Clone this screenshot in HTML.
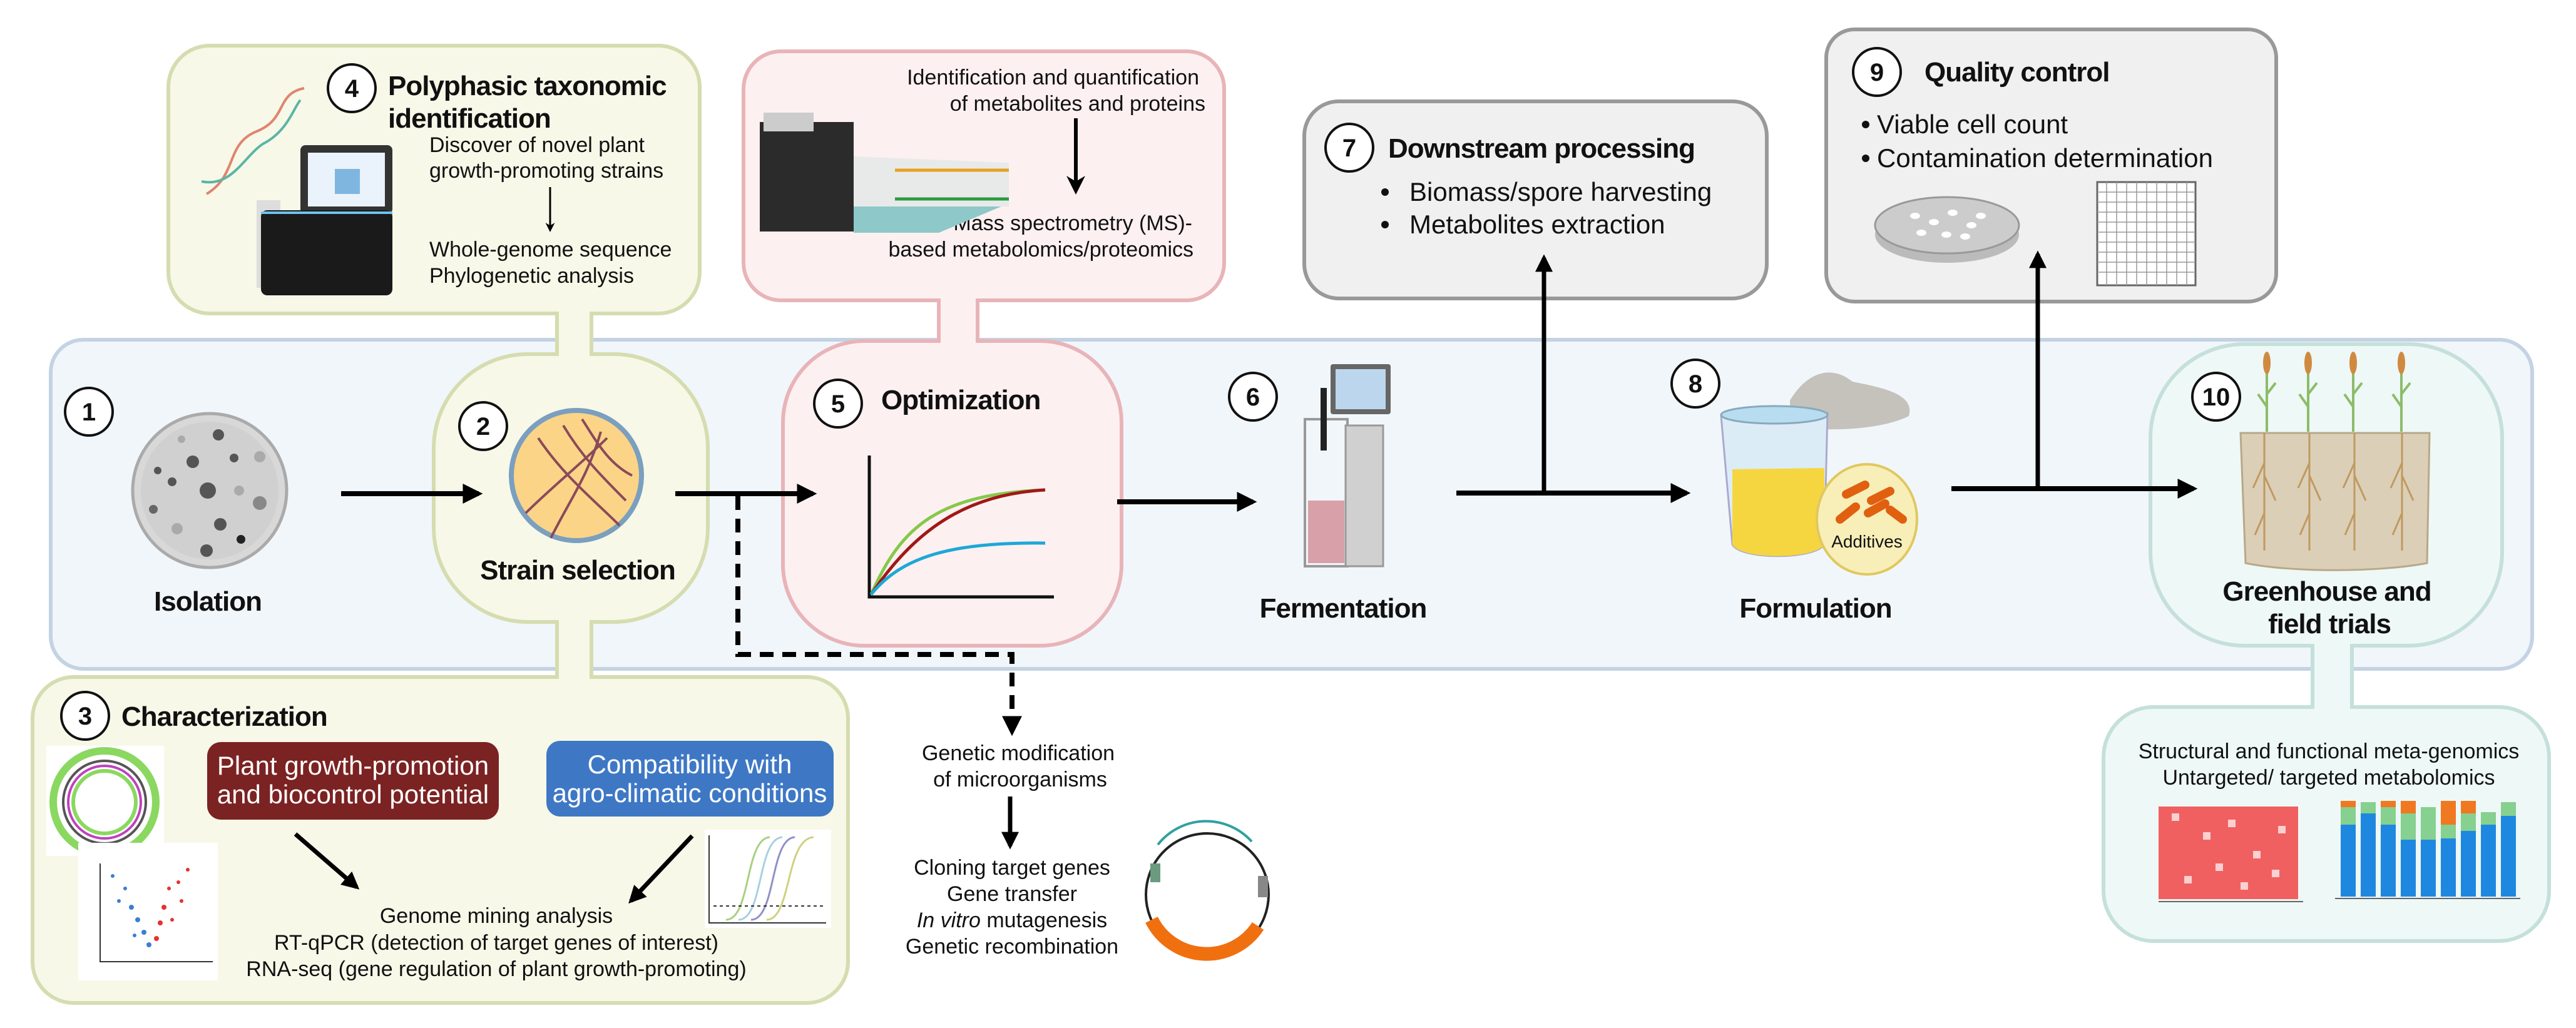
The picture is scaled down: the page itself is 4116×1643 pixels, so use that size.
<!DOCTYPE html>
<html><head><meta charset="utf-8"><style>
html,body{margin:0;padding:0;background:#fff;}
svg{display:block;}
text{font-family:"Liberation Sans","DejaVu Sans",sans-serif;fill:#111;}
.t{font-size:34px;}
.h{font-size:44px;font-weight:bold;letter-spacing:-1px;}
.b{font-size:42px;}
.n{font-size:40px;font-weight:bold;text-anchor:middle;}
</style></head><body>
<svg width="4116" height="1643" viewBox="0 0 4116 1643" xmlns="http://www.w3.org/2000/svg">
<defs>
<marker id="ah" viewBox="0 0 10 10" refX="8" refY="5" markerWidth="4" markerHeight="4" orient="auto"><path d="M0,0 L10,5 L0,10 z" fill="#000"/></marker>
<marker id="ah2" viewBox="0 0 10 10" refX="8" refY="5" markerWidth="5" markerHeight="5" orient="auto"><path d="M0,0 L10,5 L0,10 L3,5 z" fill="#000"/></marker>
</defs>

<!-- main panel -->
<rect x="81" y="543" width="3965" height="526" rx="52" fill="#f1f6fb" stroke="#c4d3e3" stroke-width="6"/>

<!-- box 4 + connector -->
<rect x="890" y="495" width="55" height="80" fill="#f7f8e8" stroke="none"/>
<line x1="890" y1="500" x2="890" y2="572" stroke="#d5ddb0" stroke-width="6"/>
<line x1="945" y1="500" x2="945" y2="572" stroke="#d5ddb0" stroke-width="6"/>
<rect x="269" y="73" width="849" height="428" rx="66" fill="#f7f8e8" stroke="#d5ddb0" stroke-width="6"/>
<rect x="893" y="490" width="49" height="20" fill="#f7f8e8"/>
<!-- connector 2-3 -->
<rect x="890" y="985" width="55" height="105" fill="#f7f8e8"/>
<line x1="890" y1="990" x2="890" y2="1085" stroke="#d5ddb0" stroke-width="6"/>
<line x1="945" y1="990" x2="945" y2="1085" stroke="#d5ddb0" stroke-width="6"/>
<!-- box 3 -->
<rect x="52" y="1082" width="1303" height="521" rx="66" fill="#f7f8e8" stroke="#d5ddb0" stroke-width="6"/>
<rect x="893" y="1076" width="49" height="14" fill="#f7f8e8"/>
<!-- strain shape -->
<rect x="693" y="566" width="438" height="428" rx="150" fill="#f7f8e8" stroke="#d5ddb0" stroke-width="6"/>
<rect x="893" y="558" width="49" height="14" fill="#f7f8e8"/>
<rect x="893" y="988" width="49" height="14" fill="#f7f8e8"/>

<!-- box 5 -->
<rect x="1500" y="475" width="62" height="95" fill="#fdf0f0"/>
<line x1="1500" y1="478" x2="1500" y2="566" stroke="#e8b4b8" stroke-width="6"/>
<line x1="1562" y1="478" x2="1562" y2="566" stroke="#e8b4b8" stroke-width="6"/>
<rect x="1188" y="82" width="768" height="398" rx="60" fill="#fdf0f0" stroke="#e8b4b8" stroke-width="6"/>
<rect x="1503" y="470" width="56" height="16" fill="#fdf0f0"/>
<rect x="1251" y="545" width="541" height="487" rx="130" fill="#fdf0f0" stroke="#e8b4b8" stroke-width="6"/>
<rect x="1503" y="538" width="56" height="14" fill="#fdf0f0"/>

<!-- box 7, 9 -->
<rect x="2084" y="162" width="739" height="315" rx="55" fill="#f0f0f0" stroke="#999" stroke-width="6"/>
<rect x="2918" y="47" width="719" height="435" rx="45" fill="#f0f0f0" stroke="#999" stroke-width="6"/>

<!-- box 10 -->
<rect x="3695" y="1025" width="63" height="110" fill="#eef8f6"/>
<line x1="3695" y1="1030" x2="3695" y2="1132" stroke="#c5e0da" stroke-width="6"/>
<line x1="3758" y1="1030" x2="3758" y2="1132" stroke="#c5e0da" stroke-width="6"/>
<rect x="3361" y="1130" width="712" height="374" rx="80" fill="#eef8f6" stroke="#c5e0da" stroke-width="6"/>
<rect x="3436" y="550" width="562" height="482" rx="150" fill="#eef8f6" stroke="#c5e0da" stroke-width="6"/>
<rect x="3698" y="1026" width="57" height="14" fill="#eef8f6"/>
<rect x="3698" y="1124" width="57" height="14" fill="#eef8f6"/>

<!-- badges -->
<g fill="#fff" stroke="#111" stroke-width="4">
<circle cx="562" cy="141" r="38"/><circle cx="142" cy="658" r="38"/><circle cx="772" cy="681" r="38"/>
<circle cx="1339" cy="645" r="38"/><circle cx="2002" cy="634" r="38"/><circle cx="136" cy="1144" r="38"/>
<circle cx="2156" cy="236" r="38"/><circle cx="2709" cy="613" r="38"/><circle cx="2999" cy="115" r="38"/>
<circle cx="3541" cy="634" r="38"/>
</g>
<g class="n">
<text class="n" x="562" y="155">4</text><text class="n" x="142" y="672">1</text><text class="n" x="772" y="695">2</text>
<text class="n" x="1339" y="659">5</text><text class="n" x="2002" y="648">6</text><text class="n" x="136" y="1158">3</text>
<text class="n" x="2156" y="250">7</text><text class="n" x="2709" y="627">8</text><text class="n" x="2999" y="129">9</text>
<text class="n" x="3541" y="648">10</text>
</g>

<!-- box 4 content -->
<text class="h" x="620" y="152">Polyphasic taxonomic</text>
<text class="h" x="620" y="204">identification</text>
<text class="t" x="686" y="243">Discover of novel plant</text>
<text class="t" x="686" y="284">growth-promoting strains</text>
<line x1="879" y1="299" x2="879" y2="368" stroke="#000" stroke-width="3" marker-end="url(#ah2)"/>
<text class="t" x="686" y="410">Whole-genome sequence</text>
<text class="t" x="686" y="452">Phylogenetic analysis</text>
<g stroke-width="4" fill="none">
<path d="M330,310 C380,280 360,230 410,210 C460,190 440,150 486,141" stroke="#e0846e"/>
<path d="M322,290 C370,300 390,250 420,230 C460,210 470,170 480,160" stroke="#5bb5a5"/>
</g>
<rect x="410" y="320" width="38" height="140" fill="#ddd"/>
<rect x="480" y="232" width="147" height="110" rx="8" fill="#333"/>
<rect x="492" y="244" width="123" height="86" fill="#eaf3fb"/>
<rect x="535" y="270" width="40" height="40" fill="#7fb6e0"/>
<rect x="417" y="336" width="210" height="136" rx="10" fill="#1a1a1a"/>
<line x1="417" y1="340" x2="627" y2="340" stroke="#6ec3f0" stroke-width="4"/>

<!-- box 5 content -->
<text class="t" x="1916" y="135" text-anchor="end">Identification and quantification</text>
<text class="t" x="1926" y="177" text-anchor="end">of metabolites and proteins</text>
<line x1="1719" y1="189" x2="1719" y2="305" stroke="#000" stroke-width="6" marker-end="url(#ah2)"/>
<text class="t" x="1905" y="368" text-anchor="end">Mass spectrometry (MS)-</text>
<text class="t" x="1907" y="410" text-anchor="end">based metabolomics/proteomics</text>
<rect x="1214" y="195" width="150" height="175" fill="#2b2b2b"/>
<rect x="1220" y="180" width="80" height="30" fill="#ccc"/>
<polygon points="1364,250 1612,260 1612,330 1364,330" fill="#e8eaea"/>
<line x1="1430" y1="272" x2="1612" y2="272" stroke="#e8a020" stroke-width="5"/>
<line x1="1430" y1="318" x2="1612" y2="318" stroke="#2a9a40" stroke-width="5"/>
<polygon points="1364,330 1600,330 1500,372 1364,372" fill="#8ec8c8"/>

<!-- isolation -->
<circle cx="335" cy="784" r="123" fill="#d8d8d8" stroke="#aaa" stroke-width="5"/>
<circle cx="335" cy="784" r="110" fill="#d0d0d0"/>
<g fill="#555"><circle cx="332" cy="784" r="13"/><circle cx="349" cy="695" r="9"/><circle cx="308" cy="738" r="10"/><circle cx="275" cy="770" r="7"/><circle cx="252" cy="752" r="6"/><circle cx="352" cy="838" r="10"/><circle cx="385" cy="862" r="7" fill="#222"/><circle cx="330" cy="880" r="10"/><circle cx="374" cy="732" r="7"/></g>
<g fill="#aaa"><circle cx="290" cy="702" r="6"/><circle cx="415" cy="730" r="9"/><circle cx="382" cy="784" r="8"/><circle cx="415" cy="804" r="11" fill="#888"/><circle cx="283" cy="845" r="9"/><circle cx="245" cy="814" r="7" fill="#666"/></g>
<text class="h" x="332" y="976" text-anchor="middle">Isolation</text>
<line x1="545" y1="789" x2="765" y2="789" stroke="#000" stroke-width="8" marker-end="url(#ah)"/>

<!-- strain selection -->
<circle cx="921" cy="760" r="108" fill="#7a9fbf"/>
<circle cx="921" cy="760" r="100" fill="#fbd488"/>
<g stroke="#8a4a5a" stroke-width="4" fill="none">
<path d="M860,700 C900,760 950,800 990,840"/><path d="M900,680 C930,730 960,760 1000,800"/><path d="M840,820 C880,780 930,740 970,700"/><path d="M880,860 C910,800 940,760 960,690"/><path d="M930,670 C950,700 970,740 1010,760"/>
</g>
<text class="h" x="923" y="926" text-anchor="middle">Strain selection</text>

<!-- arrows main row -->
<line x1="1079" y1="789" x2="1299" y2="789" stroke="#000" stroke-width="8" marker-end="url(#ah)"/>
<polyline points="1179,793 1179,1046 1617,1046 1617,1170" fill="none" stroke="#000" stroke-width="8" stroke-dasharray="22,14" marker-end="url(#ah)"/>

<!-- optimization -->
<text class="h" x="1408" y="654">Optimization</text>
<polyline points="1389,728 1389,954 1684,954" fill="none" stroke="#111" stroke-width="5"/>
<path d="M1392,950 C1440,840 1500,790 1670,783" stroke="#86c84a" stroke-width="5" fill="none"/>
<path d="M1392,950 C1460,850 1540,790 1670,783" stroke="#a01818" stroke-width="5" fill="none"/>
<path d="M1392,950 C1440,890 1520,866 1670,868" stroke="#1ca8d8" stroke-width="5" fill="none"/>
<line x1="1785" y1="802" x2="2002" y2="802" stroke="#000" stroke-width="8" marker-end="url(#ah)"/>

<!-- fermentation -->
<rect x="2126" y="582" width="96" height="80" rx="4" fill="#666"/>
<rect x="2134" y="590" width="80" height="64" fill="#bcd6ee"/>
<rect x="2085" y="670" width="68" height="235" fill="none" stroke="#999" stroke-width="4"/>
<rect x="2090" y="800" width="58" height="100" fill="#d8a0a8"/>
<rect x="2150" y="680" width="60" height="225" fill="#d0d0d0" stroke="#999" stroke-width="3"/>
<rect x="2110" y="620" width="10" height="100" fill="#222"/>
<text class="h" x="2146" y="987" text-anchor="middle">Fermentation</text>

<!-- box 7 -->
<text class="h" x="2218" y="252">Downstream processing</text>
<circle cx="2213" cy="307" r="6" fill="#111"/><circle cx="2213" cy="359" r="6" fill="#111"/>
<text class="b" x="2252" y="321">Biomass/spore harvesting</text>
<text class="b" x="2252" y="373">Metabolites extraction</text>
<line x1="2327" y1="788" x2="2695" y2="788" stroke="#000" stroke-width="8" marker-end="url(#ah)"/>
<line x1="2467" y1="790" x2="2467" y2="412" stroke="#000" stroke-width="7" marker-end="url(#ah)"/>

<!-- formulation -->
<path d="M2860,640 C2890,590 2930,585 2960,610 C3010,620 3060,630 3050,665 C3000,690 2900,690 2860,680 Z" fill="#c5c2bc"/>
<path d="M2750,665 L2920,660 L2915,870 C2900,895 2780,895 2768,870 Z" fill="#dcecf6" stroke="#aac" stroke-width="3"/>
<path d="M2768,750 L2915,748 L2915,870 C2900,895 2780,895 2768,870 Z" fill="#f6d640"/>
<ellipse cx="2835" cy="663" rx="85" ry="14" fill="#b8dcf0" stroke="#8ab" stroke-width="3"/>
<ellipse cx="2983" cy="830" rx="80" ry="88" fill="#f8eeb8" stroke="#e0c860" stroke-width="4"/>
<g stroke="#e06010" stroke-width="14" stroke-linecap="round"><line x1="2950" y1="790" x2="2980" y2="775"/><line x1="2990" y1="800" x2="3020" y2="785"/><line x1="2940" y1="830" x2="2965" y2="810"/><line x1="2985" y1="820" x2="3012" y2="805"/><line x1="3020" y1="815" x2="3040" y2="830"/></g>
<text x="2983" y="875" font-size="28" text-anchor="middle">Additives</text>
<text class="h" x="2901" y="987" text-anchor="middle">Formulation</text>
<line x1="3118" y1="781" x2="3505" y2="781" stroke="#000" stroke-width="8" marker-end="url(#ah)"/>
<line x1="3256" y1="784" x2="3256" y2="406" stroke="#000" stroke-width="7" marker-end="url(#ah)"/>

<!-- box 9 -->
<text class="h" x="3075" y="130">Quality control</text>
<circle cx="2981" cy="199" r="6" fill="#111"/><circle cx="2981" cy="253" r="6" fill="#111"/>
<text class="b" x="2999" y="213">Viable cell count</text>
<text class="b" x="2999" y="267">Contamination determination</text>
<ellipse cx="3111" cy="375" rx="115" ry="45" fill="#bbb"/>
<ellipse cx="3111" cy="360" rx="115" ry="45" fill="#ccc" stroke="#999" stroke-width="3"/>
<g fill="#fff"><ellipse cx="3060" cy="345" rx="8" ry="5"/><ellipse cx="3090" cy="355" rx="8" ry="5"/><ellipse cx="3120" cy="340" rx="8" ry="5"/><ellipse cx="3150" cy="360" rx="8" ry="5"/><ellipse cx="3110" cy="375" rx="8" ry="5"/><ellipse cx="3070" cy="372" rx="8" ry="5"/><ellipse cx="3140" cy="378" rx="8" ry="5"/><ellipse cx="3165" cy="345" rx="8" ry="5"/></g>
<rect x="3351" y="291" width="157" height="165" fill="#fff" stroke="#666" stroke-width="3"/>
<g stroke="#999" stroke-width="1.5">
<line x1="3366" y1="291" x2="3366" y2="456"/><line x1="3382" y1="291" x2="3382" y2="456"/><line x1="3398" y1="291" x2="3398" y2="456"/><line x1="3414" y1="291" x2="3414" y2="456"/><line x1="3430" y1="291" x2="3430" y2="456"/><line x1="3446" y1="291" x2="3446" y2="456"/><line x1="3462" y1="291" x2="3462" y2="456"/><line x1="3478" y1="291" x2="3478" y2="456"/><line x1="3494" y1="291" x2="3494" y2="456"/>
<line x1="3351" y1="307" x2="3508" y2="307"/><line x1="3351" y1="323" x2="3508" y2="323"/><line x1="3351" y1="339" x2="3508" y2="339"/><line x1="3351" y1="355" x2="3508" y2="355"/><line x1="3351" y1="371" x2="3508" y2="371"/><line x1="3351" y1="387" x2="3508" y2="387"/><line x1="3351" y1="403" x2="3508" y2="403"/><line x1="3351" y1="419" x2="3508" y2="419"/><line x1="3351" y1="435" x2="3508" y2="435"/>
</g>

<!-- greenhouse -->
<path d="M3580,692 L3882,692 L3878,900 C3800,915 3660,915 3588,900 Z" fill="#dccfb8" stroke="#b8a888" stroke-width="3"/>
<g stroke="#c09a60" stroke-width="3" fill="none">
<path d="M3618,692 L3618,880 M3618,740 l-18,40 M3618,760 l18,40 M3618,820 l-15,35"/>
<path d="M3690,692 L3690,880 M3690,740 l-18,40 M3690,760 l18,40 M3690,820 l-15,35"/>
<path d="M3762,692 L3762,880 M3762,740 l-18,40 M3762,760 l18,40 M3762,820 l-15,35"/>
<path d="M3838,692 L3838,880 M3838,740 l-18,40 M3838,760 l18,40 M3838,820 l-15,35"/>
</g>
<g stroke="#8cbc6a" stroke-width="4" fill="none">
<path d="M3622,690 L3622,590 M3622,650 l-14,-20 M3622,630 l14,-18"/>
<path d="M3688,690 L3688,590 M3688,650 l-14,-20 M3688,630 l14,-18"/>
<path d="M3760,690 L3760,590 M3760,650 l-14,-20 M3760,630 l14,-18"/>
<path d="M3837,690 L3837,590 M3837,650 l-14,-20 M3837,630 l14,-18"/>
</g>
<g fill="#d08a40"><ellipse cx="3622" cy="580" rx="6" ry="18"/><ellipse cx="3688" cy="580" rx="6" ry="18"/><ellipse cx="3760" cy="580" rx="6" ry="18"/><ellipse cx="3837" cy="580" rx="6" ry="18"/></g>
<text class="h" x="3718" y="960" text-anchor="middle">Greenhouse and</text>
<text class="h" x="3722" y="1012" text-anchor="middle">field trials</text>

<!-- box 10 bottom -->
<text class="t" x="3721" y="1212" text-anchor="middle">Structural and functional meta-genomics</text>
<text class="t" x="3721" y="1254" text-anchor="middle">Untargeted/ targeted metabolomics</text>
<rect x="3449" y="1289" width="223" height="148" fill="#f06060"/>
<g fill="#fbd0d0"><rect x="3470" y="1300" width="12" height="12"/><rect x="3520" y="1330" width="12" height="12"/><rect x="3560" y="1310" width="12" height="12"/><rect x="3600" y="1360" width="12" height="12"/><rect x="3640" y="1320" width="12" height="12"/><rect x="3490" y="1400" width="12" height="12"/><rect x="3580" y="1410" width="12" height="12"/><rect x="3630" y="1390" width="12" height="12"/><rect x="3540" y="1380" width="12" height="12"/></g>
<line x1="3449" y1="1441" x2="3680" y2="1441" stroke="#666" stroke-width="2"/>
<g>
<rect x="3740" y="1318" width="24" height="115" fill="#1e88e0"/><rect x="3740" y="1290" width="24" height="28" fill="#86d090"/><rect x="3740" y="1280" width="24" height="10" fill="#f07820"/>
<rect x="3772" y="1300" width="24" height="133" fill="#1e88e0"/><rect x="3772" y="1282" width="24" height="18" fill="#86d090"/>
<rect x="3804" y="1318" width="24" height="115" fill="#1e88e0"/><rect x="3804" y="1290" width="24" height="28" fill="#86d090"/><rect x="3804" y="1280" width="24" height="10" fill="#f07820"/>
<rect x="3836" y="1342" width="24" height="91" fill="#1e88e0"/><rect x="3836" y="1300" width="24" height="42" fill="#86d090"/><rect x="3836" y="1280" width="24" height="20" fill="#f07820"/>
<rect x="3868" y="1342" width="24" height="91" fill="#1e88e0"/><rect x="3868" y="1290" width="24" height="52" fill="#86d090"/>
<rect x="3900" y="1340" width="24" height="93" fill="#1e88e0"/><rect x="3900" y="1318" width="24" height="22" fill="#86d090"/><rect x="3900" y="1280" width="24" height="38" fill="#f07820"/>
<rect x="3932" y="1328" width="24" height="105" fill="#1e88e0"/><rect x="3932" y="1300" width="24" height="28" fill="#86d090"/><rect x="3932" y="1280" width="24" height="20" fill="#f07820"/>
<rect x="3964" y="1318" width="24" height="115" fill="#1e88e0"/><rect x="3964" y="1298" width="24" height="20" fill="#86d090"/>
<rect x="3996" y="1304" width="24" height="129" fill="#1e88e0"/><rect x="3996" y="1282" width="24" height="22" fill="#86d090"/>
</g>
<line x1="3731" y1="1436" x2="4027" y2="1436" stroke="#666" stroke-width="2"/>

<!-- box 3 content -->
<text class="h" x="194" y="1160">Characterization</text>
<rect x="331" y="1186" width="466" height="124" rx="22" fill="#7b2222"/>
<text class="b" x="564" y="1238" text-anchor="middle" style="fill:#fff">Plant growth-promotion</text>
<text class="b" x="564" y="1284" text-anchor="middle" style="fill:#fff">and biocontrol potential</text>
<rect x="873" y="1184" width="459" height="121" rx="22" fill="#3e78c5"/>
<text class="b" x="1102" y="1236" text-anchor="middle" style="fill:#fff">Compatibility with</text>
<text class="b" x="1102" y="1282" text-anchor="middle" style="fill:#fff">agro-climatic conditions</text>
<line x1="472" y1="1333" x2="570" y2="1418" stroke="#000" stroke-width="7" marker-end="url(#ah)"/>
<line x1="1106" y1="1336" x2="1008" y2="1440" stroke="#000" stroke-width="7" marker-end="url(#ah)"/>
<text class="t" x="793" y="1475" text-anchor="middle">Genome mining analysis</text>
<text class="t" x="793" y="1518" text-anchor="middle">RT-qPCR (detection of target genes of interest)</text>
<text class="t" x="793" y="1560" text-anchor="middle">RNA-seq (gene regulation of plant growth-promoting)</text>
<rect x="74" y="1192" width="188" height="176" fill="#fff"/>
<circle cx="167" cy="1282" r="82" fill="none" stroke="#8ad860" stroke-width="12"/>
<circle cx="167" cy="1282" r="66" fill="none" stroke="#555" stroke-width="4"/>
<circle cx="167" cy="1282" r="58" fill="none" stroke="#c040c0" stroke-width="4"/>
<circle cx="167" cy="1282" r="50" fill="none" stroke="#8ad860" stroke-width="6"/>
<rect x="125" y="1347" width="223" height="220" fill="#fff"/>
<polyline points="160,1380 160,1537 340,1537" fill="none" stroke="#333" stroke-width="2"/>
<g fill="#3a7fd0"><circle cx="200" cy="1420" r="3"/><circle cx="210" cy="1450" r="4"/><circle cx="220" cy="1470" r="4"/><circle cx="230" cy="1490" r="4"/><circle cx="238" cy="1510" r="4"/><circle cx="190" cy="1440" r="3"/><circle cx="215" cy="1495" r="3"/><circle cx="180" cy="1400" r="3"/></g>
<g fill="#e83030"><circle cx="270" cy="1420" r="3"/><circle cx="262" cy="1450" r="4"/><circle cx="256" cy="1475" r="4"/><circle cx="250" cy="1500" r="4"/><circle cx="285" cy="1410" r="3"/><circle cx="300" cy="1390" r="3"/><circle cx="275" cy="1470" r="3"/><circle cx="290" cy="1440" r="3"/></g>
<rect x="1126" y="1326" width="202" height="157" fill="#fff"/>
<polyline points="1133,1335 1133,1475 1320,1475" fill="none" stroke="#333" stroke-width="2"/>
<g fill="none" stroke-width="3"><path d="M1160,1470 C1200,1470 1190,1340 1230,1338" stroke="#a8d080"/><path d="M1180,1470 C1220,1470 1210,1340 1250,1338" stroke="#a8d0e0"/><path d="M1200,1470 C1240,1470 1230,1340 1270,1338" stroke="#9090c8"/><path d="M1225,1470 C1265,1470 1255,1340 1300,1338" stroke="#d0d080"/></g>
<line x1="1140" y1="1448" x2="1320" y2="1448" stroke="#333" stroke-width="2" stroke-dasharray="5,5"/>

<!-- genetic modification -->
<text class="t" x="1627" y="1215" text-anchor="middle">Genetic modification</text>
<text class="t" x="1630" y="1257" text-anchor="middle">of microorganisms</text>
<line x1="1614" y1="1273" x2="1614" y2="1352" stroke="#000" stroke-width="7" marker-end="url(#ah)"/>
<text class="t" x="1617" y="1398" text-anchor="middle">Cloning target genes</text>
<text class="t" x="1617" y="1440" text-anchor="middle">Gene transfer</text>
<text class="t" x="1617" y="1482" text-anchor="middle"><tspan font-style="italic">In vitro</tspan> mutagenesis</text>
<text class="t" x="1617" y="1524" text-anchor="middle">Genetic recombination</text>
<circle cx="1929" cy="1430" r="98" fill="none" stroke="#222" stroke-width="4"/>
<path d="M1840,1470 A98,98 0 0 0 2010,1480" fill="none" stroke="#f07010" stroke-width="22"/>
<path d="M1850,1350 A98,98 0 0 1 2000,1345" fill="none" stroke="#30a0a0" stroke-width="4"/>
<rect x="1838" y="1380" width="16" height="30" fill="#6a9a80"/><rect x="2010" y="1400" width="16" height="34" fill="#888"/>
</svg>
</body></html>
